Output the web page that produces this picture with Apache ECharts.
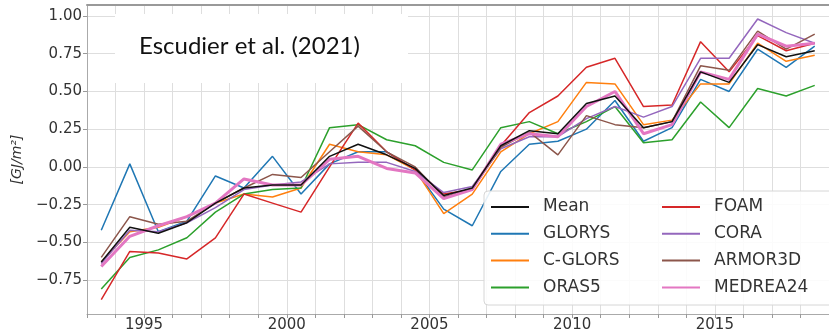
<!DOCTYPE html>
<html>
<head>
<meta charset="utf-8">
<script src="https://cdn.jsdelivr.net/npm/echarts@6/dist/echarts.min.js"></script>
<style>
  html, body { margin: 0; padding: 0; background: #fff; }
  #chart { width: 829px; height: 335px; }
</style>
</head>
<body>
<div id="chart"></div>
<script>
// Ocean heat content anomaly, yearly values centred on mid-year
const years = [1993.5, 1994.5, 1995.5, 1996.5, 1997.5, 1998.5, 1999.5, 2000.5, 2001.5, 2002.5,
               2003.5, 2004.5, 2005.5, 2006.5, 2007.5, 2008.5, 2009.5, 2010.5, 2011.5, 2012.5,
               2013.5, 2014.5, 2015.5, 2016.5, 2017.5, 2018.5];

const meanVals   = [-0.63, -0.40, -0.44, -0.37, -0.24, -0.14, -0.12, -0.12, 0.07, 0.15, 0.08, -0.01, -0.19, -0.14, 0.14, 0.24, 0.22, 0.42, 0.47, 0.26, 0.30, 0.63, 0.56, 0.81, 0.73, 0.77];
const bandLow    = [-0.74, -0.58, -0.51, -0.45, -0.36, -0.19, -0.21, -0.20, -0.03, 0.05, 0.02, -0.06, -0.25, -0.25, 0.03, 0.17, 0.12, 0.28, 0.37, 0.18, 0.22, 0.51, 0.43, 0.68, 0.60, 0.67];
const bandHigh   = [-0.54, -0.22, -0.37, -0.29, -0.12, -0.09, -0.03, -0.04, 0.17, 0.25, 0.14, 0.04, -0.13, -0.03, 0.25, 0.31, 0.32, 0.56, 0.57, 0.34, 0.38, 0.75, 0.69, 0.94, 0.86, 0.87];

const glorys     = [-0.42, 0.02, -0.43, -0.36, -0.06, -0.14, 0.07, -0.18, 0.02, 0.10, 0.10, -0.02, -0.28, -0.39, -0.03, 0.15, 0.17, 0.25, 0.44, 0.17, 0.26, 0.58, 0.50, 0.78, 0.66, 0.80];
const cglors     = [-0.63, -0.43, -0.40, -0.33, -0.24, -0.18, -0.20, -0.14, 0.15, 0.10, 0.08, -0.02, -0.31, -0.18, 0.10, 0.22, 0.30, 0.56, 0.55, 0.28, 0.31, 0.55, 0.55, 0.82, 0.70, 0.74];
const oras5      = [-0.81, -0.60, -0.55, -0.47, -0.30, -0.18, -0.15, -0.14, 0.26, 0.28, 0.18, 0.14, 0.03, -0.02, 0.26, 0.30, 0.22, 0.30, 0.40, 0.16, 0.18, 0.43, 0.26, 0.52, 0.47, 0.54];
const foam       = [-0.88, -0.56, -0.57, -0.61, -0.47, -0.18, -0.24, -0.30, 0.00, 0.29, 0.10, -0.02, -0.18, -0.15, 0.14, 0.36, 0.47, 0.66, 0.72, 0.40, 0.41, 0.83, 0.63, 0.87, 0.77, 0.82];
const cora       = [-0.64, -0.42, -0.43, -0.37, -0.27, -0.15, -0.12, -0.10, 0.02, 0.03, 0.03, -0.03, -0.17, -0.13, 0.12, 0.20, 0.20, 0.32, 0.40, 0.33, 0.40, 0.72, 0.72, 0.98, 0.89, 0.82];
const armor3d    = [-0.60, -0.33, -0.38, -0.36, -0.24, -0.14, -0.05, -0.07, 0.10, 0.27, 0.10, 0.00, -0.20, -0.15, 0.13, 0.23, 0.08, 0.34, 0.28, 0.26, 0.30, 0.67, 0.64, 0.90, 0.78, 0.88];
const medrea24   = [-0.66, -0.46, -0.39, -0.33, -0.24, -0.08, -0.12, -0.12, 0.05, 0.07, -0.01, -0.04, -0.21, -0.15, 0.15, 0.22, 0.20, 0.40, 0.50, 0.22, 0.28, 0.63, 0.58, 0.88, 0.80, 0.82];

const yTicks  = [-0.75, -0.5, -0.25, 0, 0.25, 0.5, 0.75, 1.0];
const xTicks  = [1993, 1994, 1995, 1996, 1997, 1998, 1999, 2000, 2001, 2002, 2003, 2004, 2005,
                 2006, 2007, 2008, 2009, 2010, 2011, 2012, 2013, 2014, 2015, 2016, 2017, 2018];
const xLabels = [1995, 2000, 2005, 2010, 2015];

const products = [
  { name: 'GLORYS',   values: glorys,   color: '#1f77b4', width: 1.5 },
  { name: 'C-GLORS',  values: cglors,   color: '#ff7f0e', width: 1.5 },
  { name: 'ORAS5',    values: oras5,    color: '#2ca02c', width: 1.5 },
  { name: 'FOAM',     values: foam,     color: '#d62728', width: 1.5 },
  { name: 'CORA',     values: cora,     color: '#9467bd', width: 1.5 },
  { name: 'ARMOR3D',  values: armor3d,  color: '#8c564b', width: 1.5 },
  { name: 'MEDREA24', values: medrea24, color: '#e377c2', width: 3 }
];

const pairs = vals => years.map((yr, i) => [yr, vals[i]]);

const tickFont = { fontFamily: 'DejaVu Sans', fontSize: 15, color: '#333' };
const fmtY = v => (v < 0 ? '\u2212' : '') + Math.abs(v).toFixed(2);

const series = [
  {
    name: 'spread-base', type: 'line', stack: 'spread', data: pairs(bandLow),
    symbol: 'none', lineStyle: { opacity: 0 }, silent: true, z: 1
  },
  {
    name: 'spread', type: 'line', stack: 'spread',
    data: years.map((yr, i) => [yr, bandHigh[i] - bandLow[i]]),
    symbol: 'none', lineStyle: { opacity: 0 }, silent: true, z: 1,
    areaStyle: { color: 'rgba(200,200,200,0.55)' }
  }
];
products.forEach(p => series.push({
  name: p.name, type: 'line', data: pairs(p.values), symbol: 'none',
  lineStyle: { color: p.color, width: p.width }, itemStyle: { color: p.color }, z: 2
}));
series.push({
  name: 'Mean', type: 'line', data: pairs(meanVals), symbol: 'none',
  lineStyle: { color: '#111', width: 1.5 }, itemStyle: { color: '#111' }, z: 2
});

// legend keys are plain line segments (no marker)
const legendBase = {
  orient: 'vertical', top: 197, padding: 0, itemWidth: 38, itemHeight: 14, itemGap: 6.8,
  selectedMode: false, z: 6,
  itemStyle: { opacity: 0, borderWidth: 0 },
  textStyle: { fontFamily: 'DejaVu Sans', fontSize: 17, color: '#333', lineHeight: 20, padding: [0, 0, 0, 9] }
};

const chart = echarts.init(document.getElementById('chart'), null, { renderer: 'canvas' });
chart.setOption({
  animation: false,
  backgroundColor: '#fff',
  title: {
    text: 'Escudier et al. (2021)', left: 139, top: 34, padding: 0, z: 8,
    textStyle: { fontFamily: 'Lato', fontSize: 24, fontWeight: 'normal', color: '#111' }
  },
  graphic: [
    { type: 'rect', z: 7, shape: { x: 115, y: 14, width: 293, height: 69 }, style: { fill: '#fff' } },
    { type: 'rect', z: 5, shape: { x: 484, y: 191, width: 352, height: 114, r: 4 },
      style: { fill: 'rgba(255,255,255,0.88)', stroke: '#d6d6d6', lineWidth: 1 } }
  ],
  grid: { left: 87, top: 5, right: -3, bottom: 21 },
  legend: [
    Object.assign({}, legendBase, { left: 490, data: ['Mean', 'GLORYS', 'C-GLORS', 'ORAS5'] }),
    Object.assign({}, legendBase, { left: 661, data: ['FOAM', 'CORA', 'ARMOR3D', 'MEDREA24'] })
  ],
  xAxis: [
    {
      type: 'value', min: 1993, max: 2019,
      axisLine: { show: true, onZero: false, lineStyle: { color: '#aaa', width: 1 } },
      axisTick: { show: true, length: 4, lineStyle: { color: '#999' }, customValues: xTicks },
      axisLabel: { margin: 4, customValues: xLabels, formatter: v => String(v), ...tickFont },
      splitLine: { show: true, lineStyle: { color: '#dedede', width: 1 } }
    },
    {
      type: 'value', min: 1993, max: 2019, position: 'top',
      axisLine: { show: true, onZero: false, lineStyle: { color: '#999', width: 2 } },
      axisTick: { show: false }, axisLabel: { show: false }, splitLine: { show: false }
    }
  ],
  yAxis: {
    type: 'value', min: -0.975, max: 1.073,
    name: '[GJ/m²]', nameLocation: 'middle', nameGap: 63, nameRotate: 90,
    nameTextStyle: { fontFamily: 'DejaVu Sans', fontSize: 14, fontStyle: 'italic', color: '#333' },
    axisLine: { show: true, onZero: false, lineStyle: { color: '#aaa', width: 1 } },
    axisTick: { show: true, length: 4, lineStyle: { color: '#999' }, customValues: yTicks },
    axisLabel: { margin: 5, customValues: yTicks, formatter: fmtY, ...tickFont },
    splitLine: { show: true, lineStyle: { color: '#dedede', width: 1 } }
  },
  series: series
});
</script>
</body>
</html>
